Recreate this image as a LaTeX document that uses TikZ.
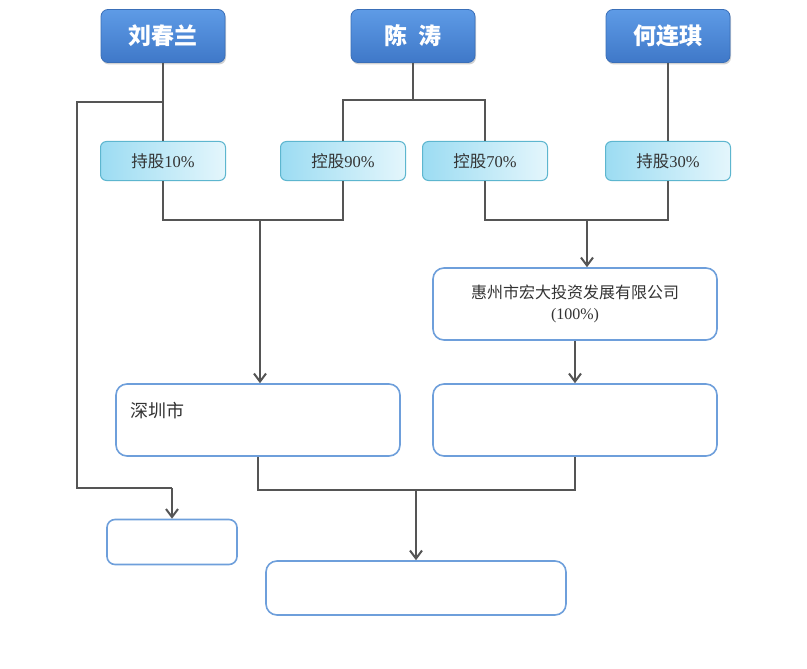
\documentclass[tikz,border=0pt]{standalone}
\usepackage{fontspec}
\newfontfamily\cjk{Noto Sans CJK SC}
\newfontfamily\ser{Liberation Serif}
\usetikzlibrary{arrows.meta,shadows}
\definecolor{pbluetop}{HTML}{5E9BE6}
\definecolor{pbluebot}{HTML}{3F78C8}
\definecolor{pborder}{HTML}{3A6FB8}
\definecolor{sharel}{HTML}{9CDCF2}
\definecolor{sharer}{HTML}{E4F6FC}
\definecolor{shareb}{HTML}{5DB6CF}
\definecolor{compb}{HTML}{6E9FDB}
\definecolor{lineg}{HTML}{555555}
\definecolor{txt}{HTML}{333333}
\begin{document}
\begin{tikzpicture}[x=1pt,y=-1pt,
  person/.style={draw=pborder, line width=0.8pt, rounded corners=7pt,
    minimum width=124pt, minimum height=53pt, top color=pbluetop, bottom color=pbluebot,
    text=white, font=\cjk\bfseries\fontsize{23}{23}\selectfont,
    drop shadow={shadow xshift=1pt, shadow yshift=-2pt, opacity=0.35}},
  share/.style={draw=shareb, line width=1pt, rounded corners=6pt,
    minimum width=125pt, minimum height=39pt, left color=sharel, right color=sharer,
    text=txt, font=\fontsize{16.5}{17}\selectfont},
  company/.style={draw=compb, line width=1.6pt, rounded corners=11pt, fill=white,
    minimum width=284pt, minimum height=72pt, align=center, text=txt,
    font=\cjk\fontsize{16}{21}\selectfont},
  conn/.style={draw=lineg, line width=2pt},
  arr/.style={conn, -{Straight Barb[length=8pt,width=12pt,line width=2pt]}}
]
\useasboundingbox (0,0) rectangle (807,669);
\fill[white] (0,0) rectangle (807,669);

% persons
\node[person] (liu) at (163,36) {刘春兰};
\node[person] (chen) at (413,36) {陈\hspace{0.45em}涛};
\node[person] (he) at (668,36) {何连琪};

% share boxes
\node[share] (s10) at (163,161) {{\cjk 持股}{\ser 10\%}};
\node[share] (s90) at (343,161) {{\cjk 控股}{\ser 90\%}};
\node[share] (s70) at (485,161) {{\cjk 控股}{\ser 70\%}};
\node[share] (s30) at (668,161) {{\cjk 持股}{\ser 30\%}};

% companies
\node[company] (hz) at (575,304) {惠州市宏大投资发展有限公司\\{\ser (100\%)}};
\node[company] (sz) at (258,420) {};
\node[company] (rc) at (575,420) {};
\node[company, minimum width=300pt, minimum height=54pt] (bt) at (416,588) {};
\node[company, minimum width=130pt, minimum height=45pt, rounded corners=8pt] (sm) at (172,542) {};
\node[anchor=west, text=txt, font=\cjk\fontsize{18}{20}\selectfont] (szt) at (127,411) {深圳市};

% coordinates
\coordinate (lb) at (163,102);
\coordinate (lc) at (77,102);
\coordinate (ld) at (77,488);
\coordinate (le) at (172,488);
\coordinate (cj) at (413,100);
\coordinate (m1) at (260,220);
\coordinate (m2) at (587,220);
\coordinate (m3) at (416,490);

% connectors
\draw[conn] (liu.south) -- (s10.north);
\draw[conn] (lb) -- (lc) -- (ld) -- (le);
\draw[arr] (le) -- (sm.north);

\draw[conn] (chen.south) -- (cj);
\draw[conn] (s90.north) |- (cj) -| (s70.north);
\draw[conn] (he.south) -- (s30.north);

\draw[conn] (s10.south) |- (m1) -| (s90.south);
\draw[arr] (m1) -- (m1 |- sz.north);

\draw[conn] (s70.south) |- (m2) -| (s30.south);
\draw[arr] (m2) -- (m2 |- hz.north);
\draw[arr] (hz.south) -- (rc.north);

\draw[conn] (sz.south) |- (m3) -| (rc.south);
\draw[arr] (m3) -- (bt.north);
\end{tikzpicture}
\end{document}
